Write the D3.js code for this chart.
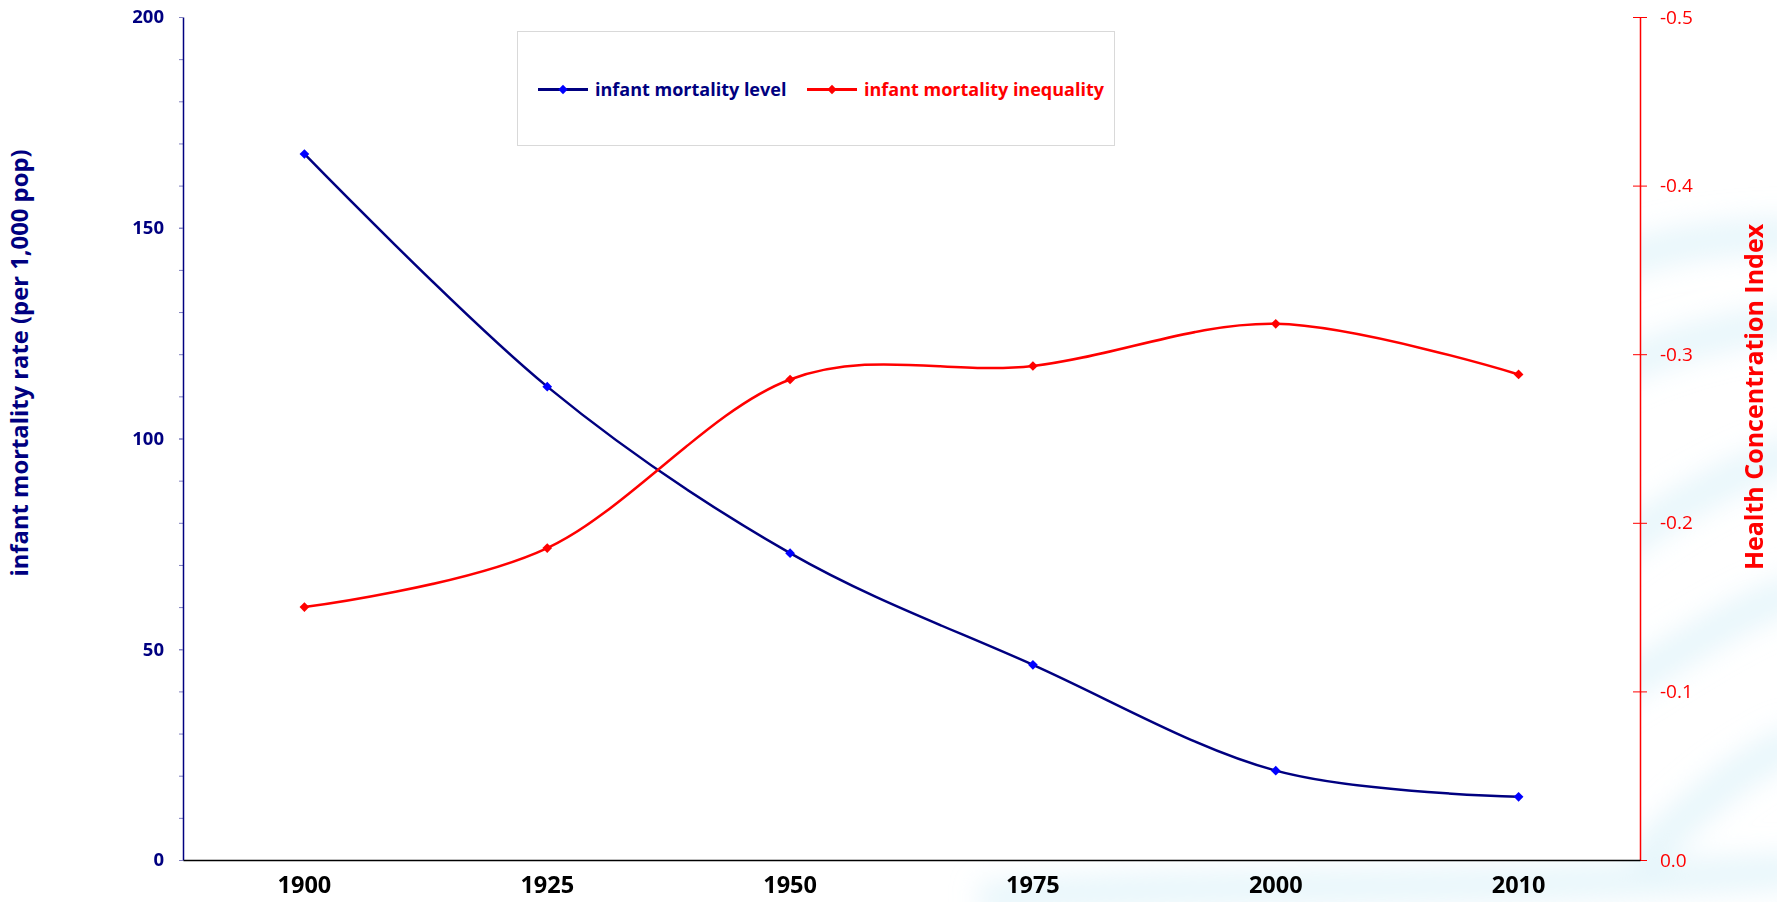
<!DOCTYPE html>
<html>
<head>
<meta charset="utf-8">
<script src="https://cdn.jsdelivr.net/npm/d3@7"></script>
<style>
  body { margin: 0; background: #fff; }
  svg { display: block; }
</style>
</head>
<body>
<svg id="chart" width="1777" height="902"></svg>
<script>
// data
var years = ["1900", "1925", "1950", "1975", "2000", "2010"];
var mortalityLevel = [167.5, 112.3, 72.8, 46.3, 21.2, 15.0];
var mortalityInequality = [-0.150, -0.185, -0.285, -0.293, -0.318, -0.288];
var leftTicks = [0, 50, 100, 150, 200];
var rightTicks = [0, -0.1, -0.2, -0.3, -0.4, -0.5];
var legendLabels = ["infant mortality level", "infant mortality inequality"];

var width = 1777, height = 902;
var margin = { top: 17, right: 137, bottom: 42, left: 183 };
var plotR = width - margin.right;
var plotB = height - margin.bottom;

var navy = "#000080", blue = "#0000ff", red = "#ff0000";
var font = "'Open Sans', 'Noto Sans', sans-serif";

var svg = d3.select("#chart");

// faint swirl background like the slide template
var defs = svg.append("defs");
defs.append("filter").attr("id", "blur")
  .attr("x", "-20%").attr("y", "-20%").attr("width", "140%").attr("height", "140%")
  .append("feGaussianBlur").attr("stdDeviation", 14);

var bg = svg.append("g").attr("filter", "url(#blur)").attr("fill", "none");
var swirls = [
  "M1540,300 C1620,250 1700,235 1800,235",
  "M1560,400 C1640,350 1720,330 1800,320",
  "M1600,560 C1680,500 1740,470 1800,450",
  "M1600,700 C1680,650 1740,610 1800,590",
  "M1640,860 C1700,800 1750,760 1800,740",
  "M980,900 C1200,880 1450,895 1800,870"
];
bg.selectAll("path").data(swirls).enter().append("path")
  .attr("d", d => d)
  .attr("stroke", "#d3eff8")
  .attr("stroke-width", 34)
  .attr("opacity", 0.55);

// white plot area
svg.append("rect")
  .attr("x", margin.left).attr("y", margin.top)
  .attr("width", plotR - margin.left).attr("height", plotB - margin.top)
  .attr("fill", "#fff");

var x = d3.scaleBand().domain(years).range([margin.left, plotR]).padding(0);
var yL = d3.scaleLinear().domain([0, 200]).range([plotB, margin.top]);
var yR = d3.scaleLinear().domain([0, -0.5]).range([plotB, margin.top]);

var cx = d => x(d) + x.bandwidth() / 2;

// left axis, minor ticks first
var yAxisMinor = svg.append("g")
  .attr("transform", `translate(${margin.left},0)`)
  .call(d3.axisLeft(yL).ticks(20).tickSize(4).tickFormat(""));
yAxisMinor.select(".domain").remove();
yAxisMinor.selectAll("line").attr("stroke", "#8080c0");

var yAxisL = svg.append("g")
  .attr("transform", `translate(${margin.left},0)`)
  .call(d3.axisLeft(yL).tickValues(leftTicks).tickSize(4).tickPadding(15).tickSizeOuter(0));
yAxisL.select(".domain").attr("stroke", navy).attr("stroke-width", 1.5);
yAxisL.selectAll("line").attr("stroke", "#8080c0");
yAxisL.selectAll("text")
  .attr("fill", navy)
  .style("font-family", font)
  .style("font-size", "18.5px")
  .style("font-weight", "bold");

// right axis
var yAxisR = svg.append("g")
  .attr("transform", `translate(${plotR},0)`)
  .call(d3.axisRight(yR).tickValues(rightTicks).tickSize(7).tickPadding(13).tickSizeOuter(0)
    .tickFormat(d => d3.format(".1f")(d).replace("\u2212", "-")));
yAxisR.select(".domain").attr("stroke", red).attr("stroke-width", 1.5);
yAxisR.selectAll("line").attr("stroke", red).attr("x1", -7);
yAxisR.selectAll("text")
  .attr("fill", red)
  .style("font-family", font)
  .style("font-size", "19px");

// x axis
var xAxis = svg.append("g")
  .attr("transform", `translate(0,${plotB})`)
  .call(d3.axisBottom(x).tickSize(0).tickPadding(16));
xAxis.select(".domain").attr("stroke", "#000").attr("stroke-width", 1.5);
xAxis.selectAll("text")
  .attr("fill", "#000")
  .style("font-family", font)
  .style("font-size", "23.5px")
  .style("font-weight", "bold");

// axis titles
svg.append("text")
  .attr("transform", `translate(28,363) rotate(-90)`)
  .attr("text-anchor", "middle")
  .attr("fill", navy)
  .style("font-family", font)
  .style("font-size", "23.8px")
  .style("font-weight", "bold")
  .text("infant mortality rate (per 1,000 pop)");

svg.append("text")
  .attr("transform", `translate(1763,397) rotate(-90)`)
  .attr("text-anchor", "middle")
  .attr("fill", red)
  .style("font-family", font)
  .style("font-size", "25px")
  .style("font-weight", "bold")
  .text("Health Concentration Index");

// smoothed lines like excel
var lineL = d3.line()
  .x((d, i) => cx(years[i]))
  .y(d => yL(d))
  .curve(d3.curveCardinal.tension(0));
var lineR = d3.line()
  .x((d, i) => cx(years[i]))
  .y(d => yR(d))
  .curve(d3.curveCardinal.tension(0));

svg.append("path").datum(mortalityLevel)
  .attr("d", lineL).attr("fill", "none")
  .attr("stroke", navy).attr("stroke-width", 2.5);
svg.append("path").datum(mortalityInequality)
  .attr("d", lineR).attr("fill", "none")
  .attr("stroke", red).attr("stroke-width", 2.5);

var diamond = d3.symbol().type(d3.symbolDiamond2).size(60);

svg.selectAll(".markL").data(mortalityLevel).enter().append("path")
  .attr("class", "markL")
  .attr("transform", (d, i) => `translate(${cx(years[i])},${yL(d)})`)
  .attr("d", diamond).attr("fill", blue);
svg.selectAll(".markR").data(mortalityInequality).enter().append("path")
  .attr("class", "markR")
  .attr("transform", (d, i) => `translate(${cx(years[i])},${yR(d)})`)
  .attr("d", diamond).attr("fill", red);

// legend
var legend = svg.append("g");
legend.append("rect")
  .attr("x", 517.5).attr("y", 31.5).attr("width", 597).attr("height", 114)
  .attr("fill", "#fff").attr("stroke", "#d9d9d9").attr("stroke-width", 1);

var legItems = [
  { label: legendLabels[0], line: navy, mark: blue, x: 538 },
  { label: legendLabels[1], line: red, mark: red, x: 807 }
];
var li = legend.selectAll(".leg").data(legItems).enter().append("g")
  .attr("transform", d => `translate(${d.x},89.5)`);
li.append("line").attr("x1", 0).attr("x2", 50)
  .attr("stroke", d => d.line).attr("stroke-width", 3);
li.append("path").attr("transform", "translate(25,0)")
  .attr("d", d3.symbol().type(d3.symbolDiamond2).size(55)).attr("fill", d => d.mark);
li.append("text")
  .attr("x", 57).attr("dy", "0.35em")
  .attr("fill", d => d.line === navy ? navy : red)
  .style("font-family", font)
  .style("font-size", "18px")
  .style("font-weight", "bold")
  .text(d => d.label);
</script>
</body>
</html>
